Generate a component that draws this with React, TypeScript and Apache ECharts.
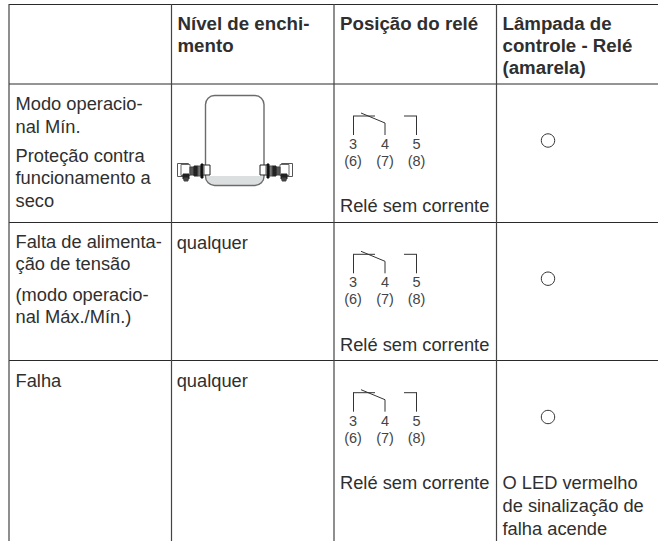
import React, { useEffect, useRef } from "react";
import * as echarts from "echarts";

const FONT = '"Liberation Sans", Arial, sans-serif';
const INK = "#2f2f2f";

const headers: [number, string[]][] = [
  [177.5, ["Nível de enchi-", "mento"]],
  [340, ["Posição do relé"]],
  [502.5, ["Lâmpada de", "controle - Relé", "(amarela)"]],
];
const columnRules = [9, 171.5, 334, 496.5];
const rowRules = [4.5, 84, 222.5, 360.5];
const terminalTop = ["3", "4", "5"];
const terminalBottom = ["(6)", "(7)", "(8)"];
const relayLabel = "Relé sem corrente";
const anyLevel = "qualquer";
const ledNote = ["O LED vermelho", "de sinalização de", "falha acende"];
const row1Label: [number, string][] = [
  [103.5, "Modo operacio-"],
  [126, "nal Mín."],
  [155, "Proteção contra"],
  [177, "funcionamento a"],
  [200.5, "seco"],
];
const row2Label: [number, string][] = [
  [241.7, "Falta de alimenta-"],
  [263.5, "ção de tensão"],
  [294, "(modo operacio-"],
  [316.5, "nal Máx./Mín.)"],
];
const row3Label: [number, string][] = [[380, "Falha"]];
const relayTops = [116, 254.3, 392.7];
const relayCaptionY = [205.5, 344, 482];
const lampY = [140.5, 278.7, 417];
const anyLevelY = [242, 380];

function txt(x: number, y: number, text: string, size = 18.3, weight = "normal", align = "left", fill = INK) {
  return {
    type: "text",
    x,
    y,
    silent: true,
    style: { text, x: 0, y: 0, fill, font: `${weight} ${size}px ${FONT}`, textAlign: align, textVerticalAlign: "middle" },
  };
}
function seg(x1: number, y1: number, x2: number, y2: number, stroke: string, lineWidth = 1) {
  return { type: "line", silent: true, shape: { x1, y1, x2, y2 }, style: { stroke, lineWidth } };
}
function box(x: number, y: number, width: number, height: number, fill: string, stroke: string, lineWidth = 1, r = 0) {
  return { type: "rect", silent: true, shape: { x, y, width, height, r }, style: { fill, stroke, lineWidth } };
}

function relay(top: number) {
  const c = "#333333";
  return [
    seg(353.5, top + 19, 353.5, top, c),
    seg(353, top, 375, top, c),
    seg(361, top - 3, 385, top + 7, c),
    seg(385, top + 7, 385, top + 19, c),
    seg(404, top, 417, top, c),
    seg(416.5, top, 416.5, top + 19, c),
    ...[353, 385, 416.5].flatMap((x, i) => [
      txt(x, top + 28, terminalTop[i], 14.5, "normal", "center", "#444"),
      txt(x, top + 45, terminalBottom[i], 14.5, "normal", "center", "#444"),
    ]),
  ];
}

function sensor(originX: number, dir: number) {
  const X = (a: number) => (dir > 0 ? originX + a : originX - a);
  const r = (a: number, y: number, w: number, h: number, fill: string, stroke: string) =>
    box(dir > 0 ? originX + a : originX - a - w, y, w, h, fill, stroke, 1);
  return [
    r(0.5, 163.5, 11, 13, "#fff", "#555"),
    r(4, 164.5, 9, 11, "#fff", "#666"),
    r(6, 174, 6, 5, "#222", "#222"),
    r(7, 178, 4, 3, "#444", "#444"),
    r(13, 167, 4, 8, "#555", "#444"),
    r(17, 166, 4, 10, "#222", "#222"),
    r(21, 166, 3, 10, "#777", "#555"),
    r(24, 164, 2, 14, "#111", "#111"),
    r(26, 165, 7, 10, "#fff", "#222"),
    seg(X(27), 165, X(27), 175, "#555"),
  ];
}

export default function App() {
  const ref = useRef<HTMLDivElement>(null);
  useEffect(() => {
    document.body.style.margin = "0";
    const chart = echarts.init(ref.current!, null, { renderer: "svg" });
    const elements: any[] = [];
    rowRules.forEach((y) => elements.push(seg(9, y, 658, y, "#2a2a2a", 1)));
    columnRules.forEach((x) => elements.push(seg(x, 4, x, 541, "#444", 1.2)));
    headers.forEach(([x, lines]) =>
      lines.forEach((l, i) => elements.push(txt(x, 23.5 + i * 22.2, l, 18.7, "bold")))
    );
    [...row1Label, ...row2Label, ...row3Label].forEach(([y, s]) => elements.push(txt(15.5, y, s)));
    anyLevelY.forEach((y) => elements.push(txt(176.7, y, anyLevel)));
    elements.push({
      type: "rect",
      silent: true,
      shape: { x: 206, y: 176, width: 58, height: 9, r: [0, 0, 8, 8] },
      style: { fill: "#dcdfe0" },
    });
    elements.push(box(205.5, 95.5, 58.5, 90, "none", "#6b6b6b", 1.4, 9));
    elements.push(...sensor(177, 1), ...sensor(293, -1));
    relayTops.forEach((t) => elements.push(...relay(t)));
    relayCaptionY.forEach((y) => elements.push(txt(340, y, relayLabel)));
    lampY.forEach((y) =>
      elements.push({
        type: "circle",
        silent: true,
        shape: { cx: 548, cy: y, r: 6.7 },
        style: { fill: "#fff", stroke: "#333", lineWidth: 1 },
      })
    );
    ledNote.forEach((s, i) => elements.push(txt(502.5, 482 + i * 23, s)));
    chart.setOption({ animation: false, graphic: { elements } });
    return () => chart.dispose();
  }, []);
  return <div ref={ref} style={{ position: "fixed", left: 0, top: 0, width: 658, height: 541, background: "#fff" }} />;
}
